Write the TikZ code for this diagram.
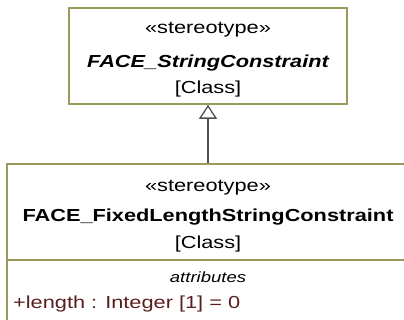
\documentclass[tikz,border=0pt]{standalone}
\usepackage{fontspec}
\setmainfont[FakeStretch=1.25]{Liberation Sans}
\usetikzlibrary{arrows.meta,positioning}
\definecolor{umlborder}{HTML}{9A9A5C}
\definecolor{attr}{HTML}{5A1E1E}
\definecolor{wire}{HTML}{505050}

\begin{document}
\begin{tikzpicture}[x=1pt,y=-1pt,>=Latex,
      classbox/.style={draw=umlborder,line width=1.6pt,fill=white,inner sep=0pt},
      txt/.style={anchor=base,inner sep=0pt,font=\fontsize{17.4pt}{21pt}\selectfont},
      small/.style={anchor=base,inner sep=0pt,font=\fontsize{14.8pt}{18pt}\selectfont\itshape},
      general/.style={wire,line width=1.3pt,-{Triangle[open,length=14pt,width=18pt]}}]
    \useasboundingbox (0,0) rectangle (404,320);
    \clip (0,0) rectangle (404,320);
    % parent class
    \node[classbox,minimum width=278pt,minimum height=96pt] (super) at (208,56) {};
    \node[txt] (superstereo) at (208,34) {«stereotype»};
    \node[txt,font=\fontsize{17.4pt}{21pt}\selectfont\bfseries\itshape] (supername) at (208,68) {FACE\_StringConstraint};
    \node[txt] (superkind) at (208,94) {[Class]};
    % child class
    \node[classbox,minimum width=402pt,minimum height=176pt] (sub) at (208,252) {};
    \draw[umlborder,line width=1.6pt] (7,260) -- (409,260);
    \node[txt] (substereo) at (208,192) {«stereotype»};
    \node[txt,font=\fontsize{17.4pt}{21pt}\selectfont\bfseries] (subname) at (208,222) {FACE\_FixedLengthStringConstraint};
    \node[txt] (subkind) at (208,249) {[Class]};
    \node[small] (attrhead) at (208,283) {attributes};
    \node[txt,anchor=base west,text=attr] (lengthattr) at (13,308) {+length : Integer [1] = 0};
    \draw[general] (sub.north) -- (super.south);
\end{tikzpicture}
\end{document}
